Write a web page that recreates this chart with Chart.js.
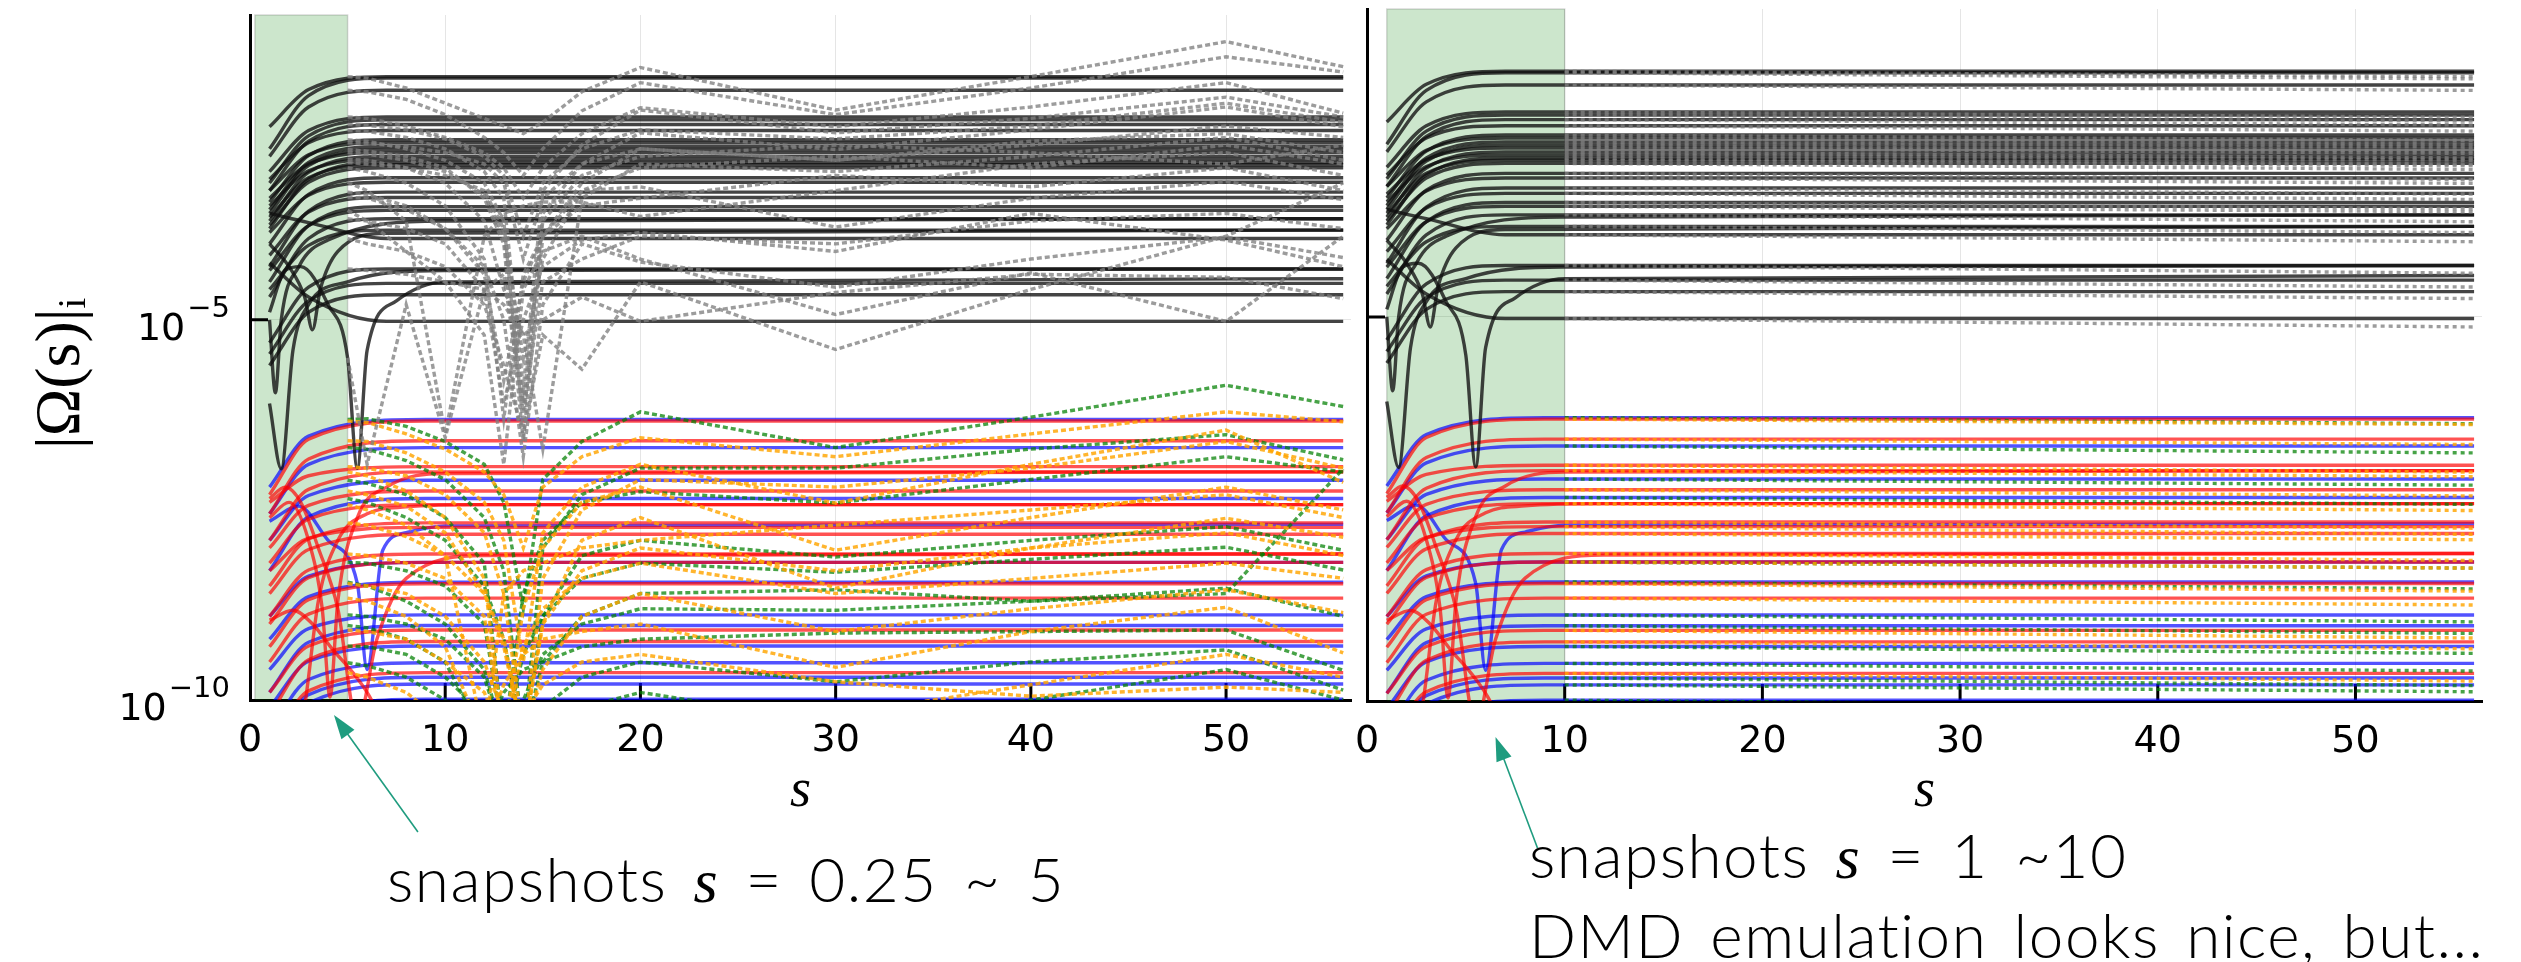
<!DOCTYPE html>
<html>
<head>
<meta charset="utf-8">
<script src="https://cdn.jsdelivr.net/npm/chart.js@4.4.1/dist/chart.umd.min.js"></script>
<style>
  body { margin: 0; width: 2521px; height: 962px; background: #fff; position: relative; overflow: hidden; }
  canvas { position: absolute; top: 0; }
  .note { position: absolute; font-family: Lato, 'Open Sans', sans-serif; font-weight: 300; font-size: 62px; line-height: 77px;
          letter-spacing: 1.5px; word-spacing: 8px; color: #000; white-space: nowrap; }
  .note i { font-family: 'Liberation Serif', serif; }
</style>
</head>
<body>
<canvas id="chartSnap5" width="1360" height="962" style="left:0"></canvas>
<canvas id="chartSnap10" width="1181" height="962" style="left:1340px"></canvas>
<div class="note" style="left:387px; top:840px">snapshots <i>s</i> = 0.25 ~ 5</div>
<div class="note" style="left:1529px; top:816px">snapshots <i>s</i> = 1 ~10<br>DMD emulation looks nice, but...</div>
<script>
// axis setup (values are log10 of |Omega|)
const xTicks = [0, 10, 20, 30, 40, 50];
const yTicks = [-10, -5];
const X_MAX = 56.4;
const Y_MIN_EXP = -10;
const Y_MAX_EXP = -0.99;

// snapshot windows (green bands)
const shadeLeft = [0.25, 5];
const shadeRight = [1, 10];

// s positions of the solid (true) curves
const S_BLACK = [1, 3, 7, 56];
const S_COLOR = [1, 3, 9, 56];

// black solid curves: value at s=1, s=3, and the plateau
const blackStart = [-2.46,-2.75,-2.85,-3.05,-3.20,-3.30,-3.15,-3.45,-3.30,-3.55,-3.60,-3.40,-3.70,-3.50,-3.80,-3.65,-3.75,-4.00,-3.85,-4.30,-4.15,-4.50,-4.35,-4.70,-4.60,-3.60,-5.30,-5.45,-5.60,-4.25];
const blackMid   = [-1.97,-2.05,-2.20,-2.51,-2.58,-2.65,-2.67,-2.84,-2.83,-2.93,-2.97,-2.95,-3.06,-3.04,-3.15,-3.13,-3.19,-3.35,-3.36,-3.57,-3.58,-3.76,-3.76,-3.93,-4.02,-3.72,-4.57,-4.75,-4.90,-4.70];
const blackPlat  = [-1.80,-1.82,-1.98,-2.33,-2.37,-2.43,-2.51,-2.63,-2.67,-2.72,-2.76,-2.80,-2.85,-2.89,-2.93,-2.96,-3.00,-3.13,-3.19,-3.32,-3.39,-3.51,-3.56,-3.67,-3.82,-3.93,-4.33,-4.52,-4.67,-5.02];

// red solid curves
const redStart = [-7.30,-7.55,-7.40,-7.90,-8.00,-8.20,-8.50,-8.30,-8.60,-8.90,-9.00,-9.30,-9.50,-9.90,-10.2,-10.6];
const redMid   = [-6.57,-6.83,-7.05,-7.23,-7.44,-7.62,-7.88,-7.87,-8.02,-8.29,-8.39,-8.68,-8.87,-9.29,-9.47,-9.88];
const redPlat  = [-6.33,-6.59,-6.93,-7.00,-7.25,-7.43,-7.67,-7.73,-7.82,-8.08,-8.19,-8.47,-8.66,-9.08,-9.23,-9.64];

// blue solid curves
const blueStart = [-7.20,-7.55,-7.90,-8.30,-8.90,-9.20,-9.60,-9.90,-10.1,-10.4,-10.6,-10.8,-11.0];
const blueMid   = [-6.53,-6.90,-7.31,-7.59,-8.37,-8.64,-9.06,-9.24,-9.49,-9.73,-9.93,-10.04,-10.24];
const bluePlat  = [-6.31,-6.68,-7.11,-7.35,-8.19,-8.45,-8.88,-9.02,-9.29,-9.51,-9.70,-9.79,-9.99];

// curves that cross zero (dips), [s list, value list]
const blackDipS = [
  [1, 1.8, 2.6, 4, 5, 5.5, 6, 7.5, 10, 56],
  [1, 2, 2.8, 3.2, 3.6, 4.5, 7, 56],
  [1, 1.3, 1.6, 2.5, 4, 10, 56],
  [1, 1.6, 2.2, 3, 5, 10, 56]
];
const blackDipE = [
  [-4.9, -4.35, -4.3, -4.8, -5.5, -6.95, -5.4, -4.75, -4.5, -4.46],
  [-4.0, -4.3, -4.7, -5.13, -4.6, -4.1, -3.86, -3.82],
  [-5.0, -5.96, -5.0, -4.3, -3.95, -3.70, -3.67],
  [-6.1, -6.96, -5.4, -4.8, -4.5, -4.35, -4.33]
];
const redDipS = [
  [1, 2, 3, 3.7, 4.1, 4.5, 5.5, 7, 10, 56],
  [1, 1.8, 2.6, 3.5, 4.5, 5.5, 6.5, 8, 12, 56],
  [1, 2.2, 3.2, 4.25, 5.3, 6.3, 6.8],
  [2.5, 2.9, 3.5, 4.5, 6, 8, 12, 56]
];
const redDipE = [
  [-7.6, -7.4, -7.9, -8.8, -9.96, -8.7, -7.6, -7.2, -7.02, -7.0],
  [-7.35, -7.2, -7.4, -8.0, -8.8, -10.3, -9.2, -8.4, -8.1, -8.08],
  [-8.95, -8.82, -9.0, -9.34, -9.65, -10.04, -10.4],
  [-10.6, -9.9, -8.7, -7.9, -7.55, -7.46, -7.43, -7.43]
];
const blueDipS = [[1, 2.5, 4, 5.5, 6.0, 6.8, 8, 10, 56]];
const blueDipE = [[-7.65, -7.45, -7.9, -8.47, -9.6, -8.03, -7.8, -7.71, -7.69]];

// left panel: DMD emulation from snapshots 0.25~5
const S_EMU_L = [5, 6, 8, 10, 12, 13, 14, 15, 17, 20, 30, 40, 50, 56];
const grayEmuL = [
  [-1.80,-1.82,-1.95,-2.15,-2.35,-2.45,-2.55,-2.40,-2.00,-1.68,-2.24,-1.80,-1.34,-1.67],
  [-1.98,-2.00,-2.10,-2.30,-2.60,-2.80,-3.10,-2.75,-2.25,-1.88,-2.30,-1.95,-1.54,-1.74],
  [-2.33,-2.35,-2.45,-2.60,-2.80,-3.00,-3.40,-3.00,-2.55,-2.21,-2.46,-2.20,-1.88,-2.28],
  [-2.51,-2.52,-2.60,-2.75,-3.05,-3.40,-5.90,-3.30,-2.70,-2.24,-2.54,-2.35,-2.07,-2.33],
  [-2.63,-2.65,-2.75,-2.90,-3.20,-3.70,-6.40,-3.60,-2.95,-2.54,-2.76,-2.50,-2.20,-2.46],
  [-2.76,-2.78,-2.85,-3.00,-3.40,-4.00,-6.60,-3.90,-3.20,-2.75,-2.90,-2.70,-2.45,-2.60],
  [-2.89,-2.90,-3.00,-3.20,-3.70,-4.60,-5.20,-6.70,-3.40,-2.95,-3.05,-2.85,-2.60,-2.90],
  [-3.00,-3.05,-3.20,-3.50,-4.20,-6.30,-4.40,-3.90,-3.30,-3.25,-3.78,-3.40,-3.18,-3.42],
  [-3.19,-3.30,-3.70,-6.50,-3.90,-3.60,-3.50,-3.45,-3.45,-3.64,-3.30,-2.95,-2.80,-3.10],
  [-3.39,-3.40,-3.55,-3.80,-4.30,-5.00,-6.80,-4.80,-4.00,-4.24,-4.57,-4.20,-3.91,-4.18],
  [-3.56,-3.70,-4.10,-4.50,-5.20,-6.90,-4.60,-4.10,-3.90,-4.20,-4.93,-4.38,-5.02,-3.90],
  [-3.93,-4.00,-4.10,-4.30,-4.80,-5.60,-6.50,-5.20,-5.65,-4.50,-5.39,-4.60,-3.90,-3.20],
  [-4.33,-4.35,-4.40,-4.50,-4.60,-4.80,-5.20,-5.00,-4.70,-5.02,-4.64,-4.40,-4.44,-4.72],
  [-5.50,-6.90,-4.80,-6.55,-4.60,-4.40,-6.20,-4.50,-4.20,-3.90,-4.00,-3.70,-3.60,-3.80],
  [-2.67,-2.68,-2.72,-2.80,-2.95,-3.20,-4.20,-3.40,-2.95,-2.75,-2.90,-2.65,-2.55,-2.80],
  [-2.93,-2.95,-3.00,-3.10,-3.30,-3.80,-5.50,-4.20,-3.30,-3.00,-2.85,-3.00,-2.70,-2.95],
  [-2.43,-2.44,-2.50,-2.62,-2.85,-3.10,-3.90,-3.20,-2.75,-2.50,-2.62,-2.45,-2.15,-2.40],
  [-2.80,-2.82,-2.90,-3.05,-3.35,-3.90,-6.10,-3.70,-3.10,-2.85,-2.70,-2.80,-2.95,-2.70],
  [-3.32,-3.35,-3.50,-3.80,-4.40,-5.80,-4.50,-3.90,-3.50,-3.40,-3.10,-3.25,-3.00,-3.30],
  [-3.67,-3.70,-3.80,-4.00,-4.60,-6.10,-5.00,-4.30,-3.95,-3.85,-4.10,-3.60,-3.95,-4.30]
];
const orangeEmuL = [
  [-6.33,-6.35,-6.50,-6.70,-7.00,-7.30,-8.00,-7.20,-6.80,-6.55,-6.80,-6.50,-6.21,-6.34],
  [-6.59,-6.60,-6.75,-7.00,-7.40,-7.90,-9.50,-7.80,-7.20,-6.90,-7.41,-6.90,-6.45,-7.14],
  [-6.93,-6.95,-7.05,-7.30,-7.80,-8.60,-10.5,-8.40,-7.50,-7.10,-7.20,-6.95,-6.60,-6.95],
  [-7.00,-7.05,-7.25,-7.60,-8.40,-10.5,-8.80,-8.00,-7.40,-7.20,-8.03,-7.60,-7.20,-7.50],
  [-7.25,-7.30,-7.45,-7.80,-8.60,-9.20,-10.5,-9.00,-7.90,-7.60,-8.53,-8.00,-7.61,-7.86],
  [-7.43,-7.50,-7.70,-8.10,-10.5,-8.60,-8.30,-8.20,-8.00,-7.90,-7.70,-7.50,-7.30,-7.60],
  [-7.67,-7.70,-7.85,-8.10,-8.60,-9.30,-10.5,-9.00,-8.30,-8.00,-8.30,-8.00,-7.80,-8.10],
  [-8.08,-8.10,-8.20,-8.40,-8.90,-10.5,-9.30,-8.80,-8.40,-8.20,-8.60,-8.40,-8.20,-8.40],
  [-8.47,-8.50,-8.60,-8.90,-9.50,-10.2,-10.5,-9.60,-8.90,-8.60,-9.10,-8.80,-8.55,-8.85],
  [-8.66,-8.70,-8.90,-9.30,-10.5,-9.80,-9.40,-9.20,-9.10,-9.00,-9.57,-9.10,-8.78,-9.38],
  [-9.08,-9.10,-9.20,-9.50,-9.90,-10.5,-10.2,-9.80,-9.50,-9.40,-9.76,-9.95,-9.83,-9.90],
  [-9.64,-9.70,-9.90,-10.3,-10.5,-10.5,-10.5,-10.5,-10.3,-10.1,-10.2,-9.80,-9.40,-9.70]
];
const greenEmuL = [
  [-6.31,-6.30,-6.40,-6.60,-6.90,-7.40,-8.80,-7.10,-6.60,-6.21,-6.68,-6.28,-5.86,-6.14],
  [-6.68,-6.70,-6.85,-7.10,-7.60,-8.30,-10.5,-8.00,-7.30,-6.95,-6.95,-6.70,-6.51,-6.84],
  [-7.11,-7.15,-7.30,-7.60,-8.20,-10.5,-8.60,-7.90,-7.40,-7.26,-7.41,-7.10,-6.80,-7.00],
  [-7.35,-7.40,-7.60,-7.90,-8.50,-9.20,-10.5,-8.90,-8.10,-7.90,-8.12,-7.90,-7.72,-8.03],
  [-8.19,-8.20,-8.30,-8.50,-9.00,-10.5,-9.40,-8.90,-8.40,-8.20,-8.32,-8.15,-7.99,-8.29],
  [-8.45,-8.50,-8.70,-9.00,-9.60,-10.5,-10.5,-9.50,-8.90,-8.60,-8.55,-8.70,-8.60,-6.96],
  [-8.88,-8.90,-9.00,-9.20,-9.70,-10.5,-10.0,-9.40,-9.00,-8.80,-8.82,-8.70,-8.53,-8.90],
  [-9.02,-9.05,-9.20,-9.50,-10.5,-9.90,-9.60,-9.50,-9.30,-9.20,-9.12,-9.10,-9.08,-9.61],
  [-9.29,-9.30,-9.40,-9.70,-10.2,-10.5,-10.5,-10.1,-9.70,-9.50,-9.76,-9.50,-9.34,-9.87],
  [-9.51,-9.55,-9.70,-10.0,-10.5,-10.5,-10.5,-10.5,-10.1,-9.90,-10.3,-10.0,-9.60,-10.0]
];

// right panel: DMD emulation from snapshots 1~10 (start at true value, end value at s=56)
const S_EMU_R = [10, 56];
const grayEndR   = [-1.87,-1.90,-2.05,-2.40,-2.45,-2.50,-2.58,-2.70,-2.75,-2.79,-2.84,-2.87,-2.93,-2.96,-3.01,-3.03,-3.08,-3.21,-3.26,-3.40,-3.47,-3.59,-3.63,-3.76,-3.90,-4.02,-4.43,-4.61,-4.76,-5.13];
const orangeEndR = [-6.40,-6.66,-7.02,-7.08,-7.33,-7.52,-7.75,-7.83,-7.90,-8.17,-8.27,-8.57,-8.75,-9.18,-9.32,-9.74];
const greenEndR  = [-6.39,-6.77,-7.19,-7.44,-8.27,-8.54,-8.97,-9.12,-9.38,-9.61,-9.80,-9.88,-10.08];

const BLACK = 'rgba(15,15,15,0.78)';
const GRAY = 'rgba(128,128,128,0.78)';
const RED = 'rgba(255,0,0,0.68)';
const BLUE = 'rgba(0,0,255,0.68)';
const ORANGE = 'rgba(255,165,0,0.82)';
const GREEN = 'rgba(0,128,0,0.72)';

function pts(sList, eList) {
  return sList.map((s, i) => ({ x: s, y: Math.pow(10, eList[i]) }));
}
function solidSet(data, color) {
  return { data, borderColor: color, borderWidth: 3.4, pointRadius: 0, fill: false,
           cubicInterpolationMode: 'monotone', order: 2 };
}
function dashSet(data, color, dash) {
  return { data, borderColor: color, borderWidth: 3.4, pointRadius: 0, fill: false,
           tension: 0, borderDash: dash, order: 1 };
}

function trueCurves() {
  const out = [];
  blackPlat.forEach((p, i) => out.push(solidSet(pts(S_BLACK, [blackStart[i], blackMid[i], p, p]), BLACK)));
  blackDipS.forEach((s, i) => out.push(solidSet(pts(s, blackDipE[i]), BLACK)));
  redPlat.forEach((p, i) => out.push(solidSet(pts(S_COLOR, [redStart[i], redMid[i], p, p]), RED)));
  redDipS.forEach((s, i) => out.push(solidSet(pts(s, redDipE[i]), RED)));
  bluePlat.forEach((p, i) => out.push(solidSet(pts(S_COLOR, [blueStart[i], blueMid[i], p, p]), BLUE)));
  blueDipS.forEach((s, i) => out.push(solidSet(pts(s, blueDipE[i]), BLUE)));
  return out;
}

const leftSets = trueCurves();
grayEmuL.forEach(v => leftSets.push(dashSet(pts(S_EMU_L, v), GRAY, [5, 3])));
orangeEmuL.forEach(v => leftSets.push(dashSet(pts(S_EMU_L, v), ORANGE, [5, 3])));
greenEmuL.forEach(v => leftSets.push(dashSet(pts(S_EMU_L, v), GREEN, [5, 3])));

const rightSets = trueCurves();
blackPlat.forEach((p, i) => rightSets.push(dashSet(pts(S_EMU_R, [p, grayEndR[i]]), GRAY, [4, 4])));
redPlat.forEach((p, i) => rightSets.push(dashSet(pts(S_EMU_R, [p, orangeEndR[i]]), ORANGE, [4, 4])));
bluePlat.forEach((p, i) => rightSets.push(dashSet(pts(S_EMU_R, [p, greenEndR[i]]), GREEN, [4, 4])));

// green band, inward tick marks, 10^k tick labels, arrow
const decor = {
  id: 'decor',
  beforeDatasetsDraw(chart, args, o) {
    const { ctx, chartArea: a, scales: { x, y } } = chart;
    const x0 = x.getPixelForValue(o.shade[0]);
    const x1 = x.getPixelForValue(o.shade[1]);
    ctx.save();
    ctx.fillStyle = 'rgba(0,128,0,0.2)';
    ctx.fillRect(x0, a.top, x1 - x0, a.bottom - a.top);
    ctx.strokeStyle = 'rgba(0,0,0,0.15)';
    ctx.lineWidth = 1.5;
    ctx.strokeRect(x0, a.top, x1 - x0, a.bottom - a.top);
    ctx.strokeStyle = '#000';
    ctx.lineWidth = 3;
    ctx.beginPath();
    xTicks.slice(1).forEach(v => {
      const px = x.getPixelForValue(v);
      ctx.moveTo(px, a.bottom);
      ctx.lineTo(px, a.bottom - 17);
    });
    const py = y.getPixelForValue(Math.pow(10, yTicks[1]));
    ctx.moveTo(a.left, py);
    ctx.lineTo(a.left + 18, py);
    ctx.stroke();
    ctx.restore();
  },
  afterDraw(chart, args, o) {
    const { ctx, chartArea: a, scales: { x, y } } = chart;
    ctx.save();
    if (o.yLabels) {
      ctx.fillStyle = '#000';
      ctx.textAlign = 'right';
      ctx.textBaseline = 'alphabetic';
      yTicks.forEach(e => {
        const py = y.getPixelForValue(Math.pow(10, e));
        const expo = '\u2212' + Math.abs(e);
        const xr = a.left - 20;
        ctx.font = '29px "DejaVu Sans"';
        const w = ctx.measureText(expo).width;
        ctx.fillText(expo, xr, py - 3);
        ctx.font = '38px "DejaVu Sans"';
        ctx.fillText('10', xr - w - 2, py + 20);
      });
    }
    const hx = x.getPixelForValue(o.arrowAt), hy = a.bottom + o.arrowGap;
    const tx = hx + o.arrowVec[0], ty = hy + o.arrowVec[1];
    const ang = Math.atan2(hy - ty, hx - tx);
    const c = Math.cos(ang), s = Math.sin(ang);
    ctx.strokeStyle = ctx.fillStyle = '#1f9c7f';
    ctx.lineWidth = 1.6;
    ctx.beginPath();
    ctx.moveTo(tx, ty);
    ctx.lineTo(hx - 16 * c, hy - 16 * s);
    ctx.stroke();
    ctx.beginPath();
    ctx.moveTo(hx, hy);
    ctx.lineTo(hx - 24 * c + 8 * s, hy - 24 * s - 8 * c);
    ctx.lineTo(hx - 24 * c - 8 * s, hy - 24 * s + 8 * c);
    ctx.closePath();
    ctx.fill();
    ctx.restore();
  }
};

function makeChart(id, datasets, cfg) {
  return new Chart(document.getElementById(id), {
    type: 'line',
    data: { datasets },
    options: {
      responsive: false,
      animation: false,
      events: [],
      layout: { padding: cfg.padding },
      plugins: { legend: { display: false }, tooltip: { enabled: false }, decor: cfg.decor },
      scales: {
        x: {
          type: 'linear', min: 0, max: X_MAX,
          afterBuildTicks: sc => { sc.ticks = xTicks.map(v => ({ value: v })); },
          afterFit: sc => { sc.height = cfg.xHeight; sc.paddingLeft = 0; sc.paddingRight = 0; },
          grid: { color: 'rgba(0,0,0,0.1)', lineWidth: 1, drawTicks: false },
          border: { color: '#000', width: 3 },
          ticks: { padding: 18, color: '#000', maxRotation: 0, font: { family: 'DejaVu Sans', size: 38 } },
          title: { display: true, text: 's', color: '#000',
                   font: { family: 'Liberation Serif', style: 'italic', size: 54 },
                   padding: { top: 0, bottom: 138 } }
        },
        y: {
          type: 'logarithmic', min: Math.pow(10, Y_MIN_EXP), max: Math.pow(10, Y_MAX_EXP),
          afterBuildTicks: sc => { sc.ticks = yTicks.map(e => ({ value: Math.pow(10, e) })); },
          afterFit: sc => { sc.width = cfg.yWidth; sc.paddingTop = 0; sc.paddingBottom = 0; },
          grid: { color: 'rgba(0,0,0,0.1)', lineWidth: 1, drawTicks: false },
          border: { color: '#000', width: 3 },
          ticks: { display: false },
          title: { display: cfg.yTitle, text: '|Ω(s)|ᵢ\u2002', color: '#000',
                   font: { family: 'Liberation Serif', size: 64 }, padding: { top: 24, bottom: 0 } }
        }
      }
    },
    plugins: [decor]
  });
}

makeChart('chartSnap5', leftSets, {
  padding: { left: 0, top: 15, right: 9, bottom: 0 },
  xHeight: 262, yWidth: 250, yTitle: true,
  decor: { shade: shadeLeft, yLabels: true, arrowAt: 4.3, arrowGap: 15, arrowVec: [84, 117] }
});
makeChart('chartSnap10', rightSets, {
  padding: { left: 0, top: 9, right: 39, bottom: 0 },
  xHeight: 261, yWidth: 27, yTitle: false,
  decor: { shade: shadeRight, yLabels: false, arrowAt: 6.5, arrowGap: 36, arrowVec: [42, 111] }
});
</script>
</body>
</html>
